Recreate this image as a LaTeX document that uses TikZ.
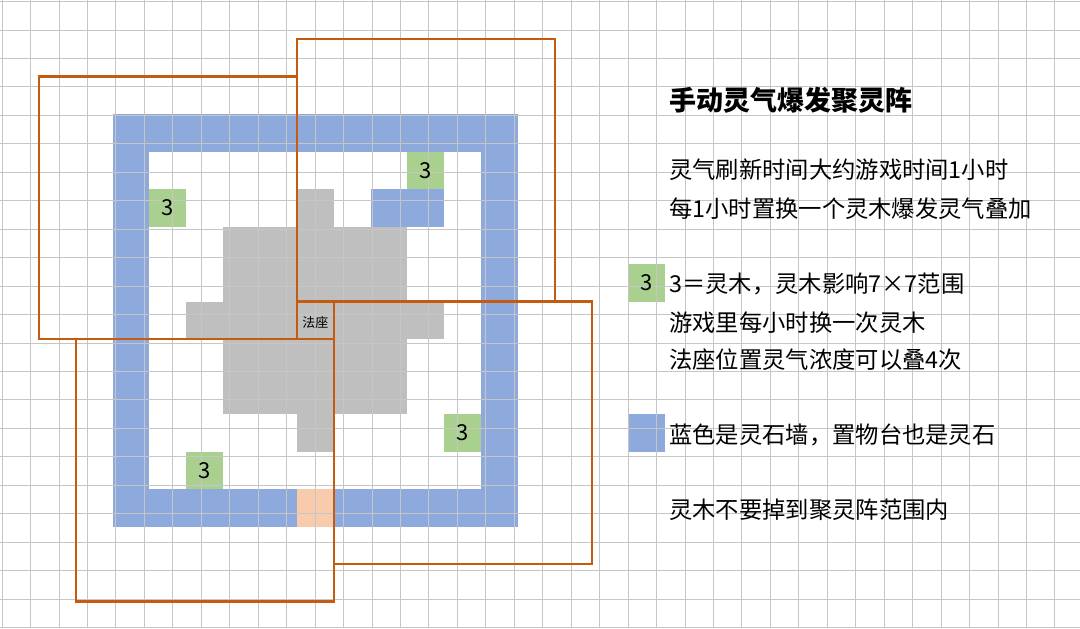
\documentclass[tikz,border=0pt]{standalone}
\usepackage{fontspec}
\setmainfont{Noto Sans CJK SC}
\definecolor{gridc}{HTML}{C6C6C6}
\definecolor{wallc}{HTML}{8EA9DB}
\definecolor{treec}{HTML}{A9D08E}
\definecolor{grayc}{HTML}{BFBFBF}
\definecolor{peach}{HTML}{F8CBAD}
\definecolor{rangec}{HTML}{C55A11}
\begin{document}
\begin{tikzpicture}[x=36.85pt,y=-37.5pt,
  rangebox/.style={draw=rangec,line width=2.2pt},
  txt/.style={anchor=west,font=\fontsize{23.3pt}{25pt}\selectfont,inner sep=0pt},
  three/.style={font=\fontsize{22pt}{24pt}\selectfont,inner sep=0pt}]
\useasboundingbox[fill=white] (-0.054,-0.04) rectangle (29.25,16.71);
% wall ring
\fill[wallc] (3,3) rectangle (14,14);
\fill[white] (4,4) rectangle (13,13);
\fill[peach] (8,13) rectangle (9,14);
\fill[wallc] (10,5) rectangle (12,6);
% gray
\fill[grayc] (8,5) rectangle (9,6);
\fill[grayc] (6,6) rectangle (11,8);
\fill[grayc] (5,8) rectangle (12,9);
\fill[grayc] (6,9) rectangle (11,11);
\fill[grayc] (8,11) rectangle (9,12);
% trees
\fill[treec] (11,4) rectangle (12,5);
\fill[treec] (4,5) rectangle (5,6);
\fill[treec] (12,11) rectangle (13,12);
\fill[treec] (5,12) rectangle (6,13);
\fill[treec] (17,7) rectangle (18,8);
\fill[wallc] (17,11) rectangle (18,12);
% grid
\draw[gridc,line width=0.8pt] (-0.054,-0.04) grid (29.25,16.71);
% labels in cells
\node[three] (t1) at (11.5,4.5) {3};
\node[three] (t2) at (4.5,5.5) {3};
\node[three] (t3) at (12.5,11.5) {3};
\node[three] (t4) at (5.5,12.5) {3};
\node[three] (t5) at (17.5,7.5) {3};
\node[font=\fontsize{13pt}{14pt}\selectfont,inner sep=0pt] (fz) at (8.5,8.55) {法座};
% ranges
\draw[rangebox] (1,2) rectangle (8,9);
\draw[rangebox] (8,1) rectangle (15,8);
\draw[rangebox] (9,8) rectangle (16,15);
\draw[rangebox] (2,9) rectangle (9,16);
% text
\node[txt,font=\fontsize{27pt}{30pt}\selectfont\bfseries] (title) at (18.1,2.63) {手动灵气爆发聚灵阵};
\node[txt] (l1) at (18.1,4.49) {灵气刷新时间大约游戏时间1小时};
\node[txt] (l2) at (18.1,5.51) {每1小时置换一个灵木爆发灵气叠加};
\node[txt] (l3) at (18.1,7.53) {3＝灵木，灵木影响7×7范围};
\node[txt] (l4) at (18.1,8.55) {游戏里每小时换一次灵木};
\node[txt] (l5) at (18.1,9.56) {法座位置灵气浓度可以叠4次};
\node[txt] (l6) at (18.1,11.56) {蓝色是灵石墙，置物台也是灵石};
\node[txt] (l7) at (18.1,13.56) {灵木不要掉到聚灵阵范围内};
\end{tikzpicture}
\end{document}
